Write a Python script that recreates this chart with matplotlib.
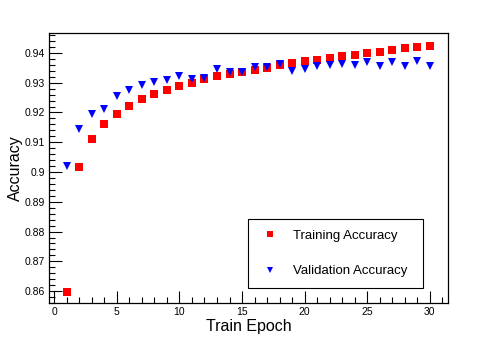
import matplotlib
matplotlib.use("Agg")
import matplotlib.pyplot as plt
from matplotlib.ticker import MultipleLocator, FormatStrFormatter

plt.rcParams['font.family'] = ['Liberation Sans', 'DejaVu Sans']

epochs = list(range(1, 31))
train_acc = [0.8598, 0.9018, 0.9110, 0.9161, 0.9196, 0.9222, 0.9245, 0.9263, 0.9276, 0.9290,
             0.9300, 0.9312, 0.9323, 0.9329, 0.9336, 0.9344, 0.9351, 0.9359, 0.9365, 0.9372,
             0.9376, 0.9384, 0.9389, 0.9394, 0.9400, 0.9404, 0.9411, 0.9416, 0.9419, 0.9425]
val_acc = [0.9020, 0.9144, 0.9195, 0.9211, 0.9255, 0.9276, 0.9292, 0.9301, 0.9309, 0.9324,
           0.9313, 0.9317, 0.9345, 0.9337, 0.9337, 0.9352, 0.9352, 0.9362, 0.9341, 0.9347,
           0.9356, 0.9358, 0.9364, 0.9361, 0.9370, 0.9356, 0.9369, 0.9356, 0.9372, 0.9355]

fig = plt.figure(figsize=(4.98, 3.38), dpi=100)
ax = fig.add_axes([49/498, 35/338, 399/498, 270/338])

ax.plot(epochs, train_acc, 's', color='#ff0000', ms=6, mew=0, label='Training Accuracy')
ax.plot(epochs, val_acc, 'v', color='#0000ff', ms=6, mew=0, label='Validation Accuracy')

ax.set_xlim(-0.42, 31.45)
ax.set_ylim(0.8560, 0.9467)

ax.xaxis.set_major_locator(MultipleLocator(5))
ax.xaxis.set_minor_locator(MultipleLocator(1))
ax.yaxis.set_major_locator(MultipleLocator(0.01))
ax.yaxis.set_minor_locator(MultipleLocator(0.002))
ax.yaxis.set_major_formatter(FormatStrFormatter('%g'))

ax.tick_params(which='both', direction='in', top=False, right=False, width=0.8, labelsize=7.5, pad=3)
ax.tick_params(which='major', length=9)
ax.tick_params(which='minor', length=4.5)
for s in ax.spines.values():
    s.set_linewidth(0.9)

ax.set_xlabel('Train Epoch', fontsize=11.5, labelpad=1)
ax.set_ylabel('Accuracy', fontsize=11.5, labelpad=1)

leg = ax.legend(loc='upper left', bbox_to_anchor=(0.4995, 0.058, 0.4385, 0.252), mode='expand',
                borderaxespad=0, fontsize=9.5, numpoints=1, borderpad=0.8, handlelength=1.75,
                handletextpad=0.82, labelspacing=1.75, fancybox=False, framealpha=1,
                edgecolor='black', markerscale=0.8)
leg.get_frame().set_linewidth(0.8)

fig.savefig('out.png', dpi=100)
